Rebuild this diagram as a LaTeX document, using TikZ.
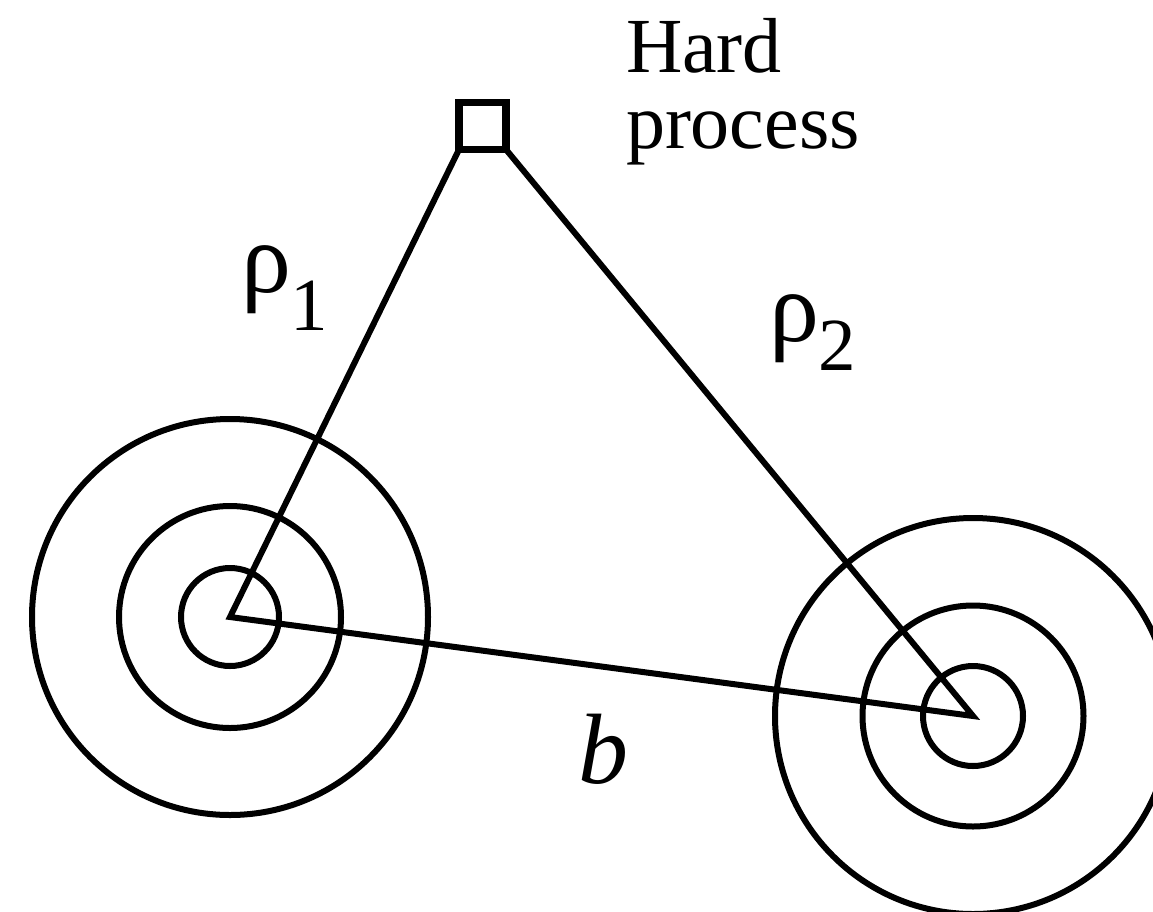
\documentclass[tikz,border=0pt]{standalone}
\usepackage{fontspec}
\setmainfont{Liberation Serif}
\begin{document}
\begin{tikzpicture}[x=1pt,y=-1pt,
  ring/.style={circle,draw,line width=6pt,inner sep=0pt,outer sep=0pt},
  edge/.style={line width=6pt,line join=miter},
  label/.style={inner sep=0pt,outer sep=0pt}]
\useasboundingbox (0,0) rectangle (1153,911);
\clip (0,0) rectangle (1153,911);
% hard process box
\node[draw,line width=7.5pt,minimum size=47pt,inner sep=0pt,outer sep=0pt] (hp) at (482.5,126) {};
\node[label,anchor=base west,align=left,font=\fontsize{78}{76}\selectfont] (hptext) at (626,148) {Hard\\process};
% left nucleus
\coordinate (A) at (230,617);
\node[ring,minimum size=98pt]  (A1) at (A) {};
\node[ring,minimum size=222pt] (A2) at (A) {};
\node[ring,minimum size=396pt] (A3) at (A) {};
% right nucleus
\coordinate (B) at (973,716);
\node[ring,minimum size=100pt] (B1) at (B) {};
\node[ring,minimum size=221pt] (B2) at (B) {};
\node[ring,minimum size=396pt] (B3) at (B) {};
% triangle
\draw[edge] (hp.south east) -- (B) -- (A) -- (hp.south west);
% labels
\node[label,anchor=base west] (rho1) at (241,292) {\fontsize{100}{100}\selectfont ρ\fontsize{75}{75}\selectfont\raisebox{-38pt}{1}};
\node[label,anchor=base west] (rho2) at (769,341) {\fontsize{100}{100}\selectfont ρ\fontsize{75}{75}\selectfont\raisebox{-29pt}{2}};
\node[label,anchor=base] (blabel) at (603,783) {\fontsize{100}{100}\selectfont\itshape b};
\end{tikzpicture}
\end{document}
